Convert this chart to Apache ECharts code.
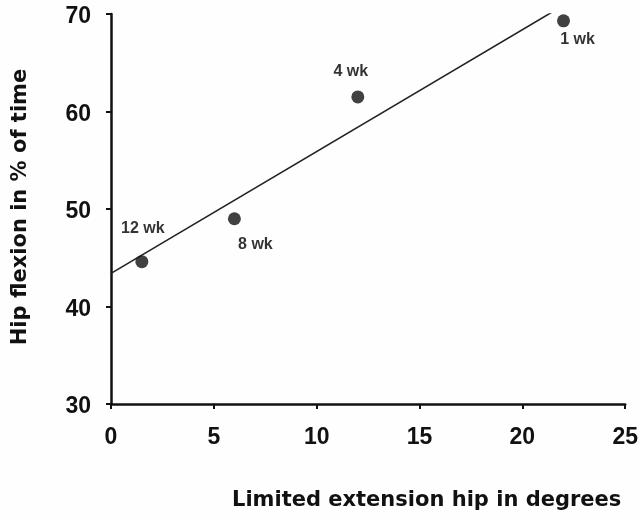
<!DOCTYPE html>
<html>
<head>
<meta charset="utf-8">
<script src="https://cdn.jsdelivr.net/npm/echarts@6/dist/echarts.min.js"></script>
<style>
  html, body { margin: 0; padding: 0; background: #fefefe; }
  #chart { width: 641px; height: 519px; }
</style>
</head>
<body>
<div id="chart"></div>
<script>
// Limited hip extension (degrees) vs. hip flexion (% of time), by week
const weeks = ['12 wk', '8 wk', '4 wk', '1 wk'];
const extensionDeg = [1.5, 6, 12, 22];
const flexionPct = [44.6, 49.0, 61.5, 69.3];
// Endpoints of the fitted straight line
const fitX = [0, 21.45];
const fitY = [43.4, 70.2];
const xTicks = [0, 5, 10, 15, 20, 25];
const yTicks = [30, 40, 50, 60, 70];

// Label offsets relative to each dot (pixels)
const labelOffsets = [[1, -33], [21, 26], [-7, -25], [14, 19]];

const tickFont = '"Liberation Sans", Arial, sans-serif';
const titleFont = 'bold 21px "DejaVu Sans", Verdana, sans-serif';
const chart = echarts.init(document.getElementById('chart'));

const points = extensionDeg.map((x, i) => ({
  value: [x, flexionPct[i]],
  label: {
    show: true,
    formatter: weeks[i],
    position: 'inside',
    offset: labelOffsets[i],
    color: '#000',
    textBorderWidth: 0,
    fontFamily: tickFont,
    fontWeight: 'bold',
    fontSize: 16
  }
}));

chart.setOption({
  backgroundColor: '#fefefe',
  animation: false,
  grid: { left: 111, right: 14, top: 14, bottom: 115 },
  xAxis: {
    type: 'value',
    min: xTicks[0],
    max: xTicks[xTicks.length - 1],
    interval: 5,
    splitLine: { show: false },
    axisLine: { lineStyle: { color: '#111', width: 2.5 } },
    axisTick: { length: 5, lineStyle: { color: '#111', width: 2 } },
    axisLabel: { color: '#111', fontFamily: tickFont, fontWeight: 'bold', fontSize: 23, margin: 22 }
  },
  yAxis: {
    type: 'value',
    min: yTicks[0],
    max: yTicks[yTicks.length - 1],
    interval: 10,
    splitLine: { show: false },
    axisLine: { show: true, lineStyle: { color: '#111', width: 2.5 } },
    axisTick: { show: true, length: 5, lineStyle: { color: '#111', width: 2 } },
    axisLabel: {
      color: '#111', fontFamily: tickFont, fontWeight: 'bold', fontSize: 23,
      margin: 20, verticalAlign: 'top', lineHeight: 6
    }
  },
  graphic: [
    {
      type: 'text',
      x: 232, y: 501,
      style: {
        text: 'Limited extension hip in degrees',
        fill: '#111',
        font: titleFont,
        textAlign: 'left',
        textVerticalAlign: 'middle'
      }
    },
    {
      type: 'text',
      x: 21, y: 207,
      rotation: Math.PI / 2,
      style: {
        text: 'Hip flexion in % of time',
        fill: '#111',
        font: titleFont,
        textAlign: 'center',
        textVerticalAlign: 'middle'
      }
    }
  ],
  series: [
    {
      type: 'line',
      data: fitX.map((x, i) => [x, fitY[i]]),
      symbol: 'none',
      lineStyle: { color: '#222', width: 1.6 },
      z: 2
    },
    {
      type: 'scatter',
      data: points,
      symbol: 'circle',
      symbolSize: 13,
      itemStyle: { color: '#111' },
      emphasis: { disabled: true },
      z: 3
    }
  ]
});
</script>
</body>
</html>
